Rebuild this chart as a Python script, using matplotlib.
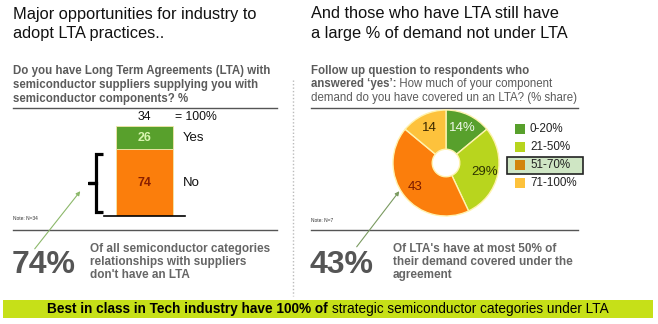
import matplotlib
matplotlib.use("Agg")
import matplotlib.pyplot as plt
import numpy as np
from matplotlib.patches import Rectangle
from matplotlib.path import Path
from matplotlib.patches import PathPatch

plt.rcParams['font.family'] = ['Liberation Sans', 'DejaVu Sans']

# ---------------- data ----------------
bar_categories = ["No", "Yes"]
bar_values = [74, 26]
bar_total_n = 34

pie_labels = ["0-20%", "21-50%", "51-70%", "71-100%"]
pie_values = [14, 29, 43, 14]
pie_label_text = ["14%", "29%", "43", "14"]
pie_n = 7

left_big = "74%"
right_big = "43%"

# ---------------- styles ----------------
W, H = 658, 324
GREEN = "#58a02c"
ORANGE = "#fb7e0c"
YGREEN = "#b8d51e"
YELLOW = "#fdc23c"
GREY_TXT = "#5b5b5b"
bar_colors = {"No": ORANGE, "Yes": GREEN}
bar_text_colors = {"No": "#8a1f00", "Yes": "#d8f5b0"}
pie_colors = [GREEN, YGREEN, ORANGE, YELLOW]
legend_colors = [GREEN, YGREEN, "#d2840e", YELLOW]
pie_text_colors = ["#eef8e8", "#2e3300", "#7a1a00", "#3a2800"]

fig = plt.figure(figsize=(W / 100, H / 100), dpi=100)
fig.patch.set_facecolor("white")


def box(x0, y0, x1, y1):
    return [x0 / W, 1 - y1 / H, (x1 - x0) / W, (y1 - y0) / H]


ov = fig.add_axes([0, 0, 1, 1])
ov.set_xlim(0, W)
ov.set_ylim(H, 0)
ov.axis("off")

# Titles
ov.text(13, 6.5, "Major opportunities for industry to\nadopt LTA practices..",
        fontsize=11.8, va="top", ha="left", color="#111111", linespacing=1.38)
ov.text(311, 6.5, "And those who have LTA still have\na large % of demand not under LTA",
        fontsize=11.8, va="top", ha="left", color="#111111", linespacing=1.38)

# Left subtitle
ov.text(13, 65, "Do you have Long Term Agreements (LTA) with\nsemiconductor suppliers supplying you with\nsemiconductor components? %",
        fontsize=8.3, fontweight="bold", va="top", ha="left", color=GREY_TXT, linespacing=1.22)

# Right subtitle (mixed weights)
ov.text(311, 65, "Follow up question to respondents who",
        fontsize=8.3, fontweight="bold", va="top", ha="left", color=GREY_TXT)
t_b = ov.text(311, 78.5, "answered \u2018yes\u2019:", fontsize=8.3, fontweight="bold",
              va="top", ha="left", color=GREY_TXT)
ov.annotate(" How much of your component", xy=(1, 0), xycoords=t_b, va="bottom", ha="left",
            fontsize=8.3, color=GREY_TXT)
ov.text(311, 92, "demand do you have covered un an LTA? (% share)",
        fontsize=8.3, va="top", ha="left", color=GREY_TXT)

# Rules
for x0, x1 in [(13, 277), (311, 578)]:
    ov.plot([x0, x1], [108, 108], color="#555555", lw=1)
    ov.plot([x0, x1], [230, 230], color="#555555", lw=1)

# Dotted separator
ov.plot([293, 293], [80, 296], color="#bbbbbb", lw=1, ls=(0, (1, 1.5)))

# Notes
ov.text(13, 219, f"Note: N={bar_total_n}", fontsize=3.5, va="center", ha="left", color="#333333")
ov.text(311, 220, f"Note: N={pie_n}", fontsize=3.5, va="center", ha="left", color="#333333")

# Arrows
ov.annotate("", xy=(82, 189), xytext=(33, 251),
            arrowprops=dict(arrowstyle="-|>", color="#8cb86a", lw=0.8, mutation_scale=6))
ov.annotate("", xy=(401, 189), xytext=(355, 249),
            arrowprops=dict(arrowstyle="-|>", color="#7a9a60", lw=0.8, mutation_scale=6))

# Bracket
verts = [(103, 154), (96, 154), (96, 183), (88, 183), (96, 183), (96, 212), (103, 212)]
ov.add_patch(PathPatch(Path(verts), fill=False, lw=2.3, color="black", capstyle="butt", joinstyle="miter"))

# Big numbers and descriptions
ov.text(12, 265, left_big, fontsize=23, fontweight="bold", color="#555555", va="center", ha="left")
ov.text(90, 262, "Of all semiconductor categories\nrelationships with suppliers\ndon't have an LTA",
        fontsize=8.5, fontweight="bold", color="#666666", va="center", ha="left", linespacing=1.15)
ov.text(310, 265, right_big, fontsize=23, fontweight="bold", color="#555555", va="center", ha="left")
ov.text(393, 262, "Of LTA's have at most 50% of\ntheir demand covered under the\nagreement",
        fontsize=8.5, fontweight="bold", color="#666666", va="center", ha="left", linespacing=1.15)

# Bottom banner
ov.add_patch(Rectangle((3, 300), 650, 18, facecolor="#c6e018", edgecolor="none"))
tb = ov.text(47, 309, "Best in class in Tech industry have 100% of ", fontsize=9.8,
             fontweight="bold", color="black", va="center", ha="left")
ov.annotate("strategic semiconductor categories under LTA", xy=(1, 0), xycoords=tb,
            va="bottom", ha="left", fontsize=9.8, color="black")

# ---------------- stacked bar ----------------
axb = fig.add_axes(box(104, 126, 185, 216))
axb.set_xlim(-0.7, 0.7)
axb.set_ylim(0, 100)
axb.axis("off")
bottom = 0
for cat, val in zip(bar_categories, bar_values):
    axb.bar(0, val, bottom=bottom, width=1.0, color=bar_colors[cat],
            edgecolor="#f3e8a8", linewidth=0.6)
    axb.text(0, bottom + val / 2, str(val), ha="center", va="center", fontsize=9,
             fontweight="bold", color=bar_text_colors[cat])
    axb.text(0.655, bottom + val / 2, cat, ha="left", va="center", fontsize=9.5, color="#111111",
             clip_on=False)
    bottom += val
axb.axhline(0, color="black", lw=1.2, xmin=0, xmax=1, clip_on=False)
axb.text(0, bottom + 10, str(bar_total_n), ha="center", va="center", fontsize=8.8,
         color="#111111", clip_on=False)
axb.text(0.53, bottom + 10, f"= {bottom}%", ha="left", va="center", fontsize=8.8,
         color="#111111", clip_on=False)

# ---------------- donut ----------------
axp = fig.add_axes(box(393, 110, 499, 216))
wedges, _ = axp.pie(pie_values, colors=pie_colors, startangle=90, counterclock=False,
                    radius=1.0, wedgeprops=dict(width=0.74, edgecolor="#fff3b0", linewidth=1))
axp.set_xlim(-1, 1)
axp.set_ylim(-1, 1)
for w, txt, c in zip(wedges, pie_label_text, pie_text_colors):
    ang = np.deg2rad((w.theta1 + w.theta2) / 2)
    axp.text(0.74 * np.cos(ang), 0.74 * np.sin(ang), txt, ha="center", va="center",
             fontsize=9.5, color=c)

# Legend (manual)
rows_y = [129, 147, 165, 183]
ov.add_patch(Rectangle((507, 157), 76, 17, facecolor="#cfe6c4", edgecolor="#222222", lw=1.2))
for yy, lab, col in zip(rows_y, pie_labels, legend_colors):
    ov.add_patch(Rectangle((515, yy - 5), 10, 10, facecolor=col, edgecolor="none"))
    ov.text(530, yy, lab, fontsize=8.4, va="center", ha="left", color="#222222")

fig.savefig("out.png", dpi=100)
